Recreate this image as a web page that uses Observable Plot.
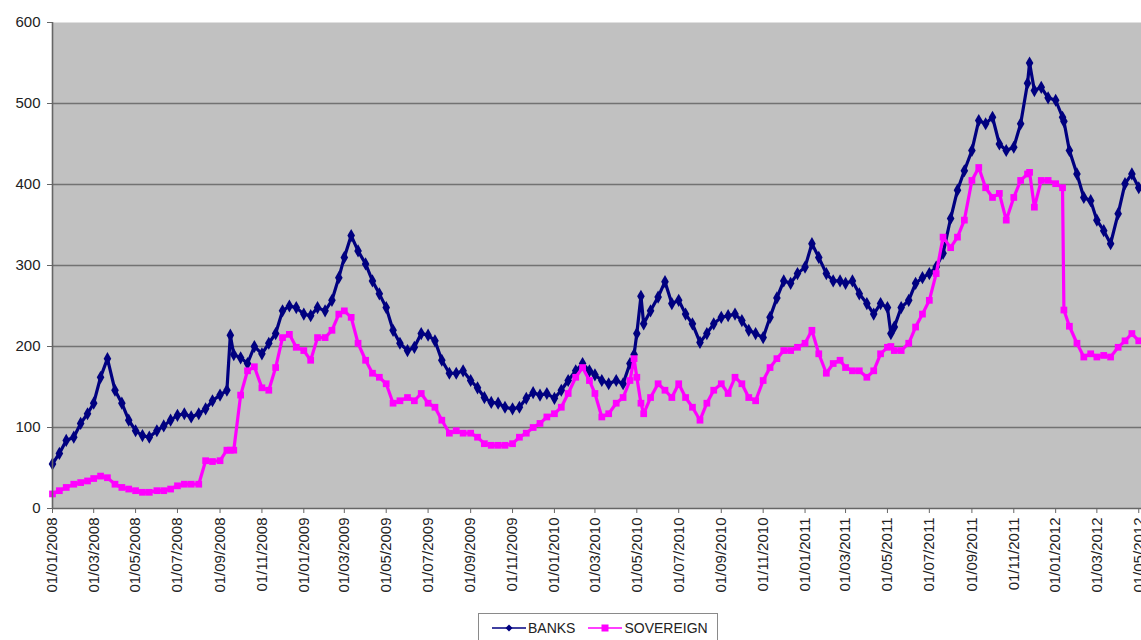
<!DOCTYPE html>
<html>
<head>
<meta charset="utf-8">
<script src="https://cdn.jsdelivr.net/npm/d3@7"></script>
<script src="https://cdn.jsdelivr.net/npm/@observablehq/plot@0.6"></script>
<style>
  body { margin: 0; background: #fff; font-family: Arial, "Liberation Sans", sans-serif; }
  #legend {
    position: absolute; left: 478px; top: 613px; width: 240px; height: 30px;
    border: 1px solid #8a8a8a; background: #fff; box-sizing: border-box;
    display: flex; align-items: center; font-size: 14px; color: #222;
  }
  #legend .item { display: flex; align-items: center; }
  #legend svg { display: block; }
</style>
</head>
<body>
<div id="chart"></div>
<div id="legend">
  <div class="item" style="margin-left:12px">
    <svg width="36" height="14"><line x1="1" y1="7" x2="35" y2="7" stroke="#000080" stroke-width="1.5"/><path d="M18,3.5 L21.5,7 L18,10.5 L14.5,7 Z" fill="#000080"/></svg>
    <span style="margin-left:1px">BANKS</span>
  </div>
  <div class="item" style="margin-left:12px">
    <svg width="36" height="14"><line x1="1" y1="7" x2="35" y2="7" stroke="#ff00ff" stroke-width="1.5"/><rect x="14.5" y="3.5" width="7" height="7" fill="#ff00ff"/></svg>
    <span style="margin-left:1px">SOVEREIGN</span>
  </div>
</div>
<script>
// Observation dates (ISO) shared by both series
const dates = [
  "2008-01-01","2008-01-11","2008-01-21","2008-02-01","2008-02-11","2008-02-21","2008-03-01","2008-03-11","2008-03-21",
  "2008-04-01","2008-04-11","2008-04-21","2008-05-01","2008-05-11","2008-05-21","2008-06-01","2008-06-11","2008-06-21",
  "2008-07-01","2008-07-11","2008-07-21","2008-08-01","2008-08-11","2008-08-21","2008-09-01","2008-09-11","2008-09-16","2008-09-21",
  "2008-10-01","2008-10-11","2008-10-21","2008-11-01","2008-11-11","2008-11-21","2008-12-01","2008-12-11","2008-12-21",
  "2009-01-01","2009-01-11","2009-01-21","2009-02-01","2009-02-11","2009-02-21","2009-03-01","2009-03-11","2009-03-21",
  "2009-04-01","2009-04-11","2009-04-21","2009-05-01","2009-05-11","2009-05-21","2009-06-01","2009-06-11","2009-06-21",
  "2009-07-01","2009-07-11","2009-07-21","2009-08-01","2009-08-11","2009-08-21","2009-09-01","2009-09-11","2009-09-21",
  "2009-10-01","2009-10-11","2009-10-21","2009-11-01","2009-11-11","2009-11-21","2009-12-01","2009-12-11","2009-12-21",
  "2010-01-01","2010-01-11","2010-01-21","2010-02-01","2010-02-11","2010-02-21","2010-03-01","2010-03-11","2010-03-21",
  "2010-04-01","2010-04-11","2010-04-21","2010-04-27","2010-05-01","2010-05-07","2010-05-11","2010-05-21",
  "2010-06-01","2010-06-11","2010-06-21","2010-07-01","2010-07-11","2010-07-21","2010-08-01","2010-08-11","2010-08-21",
  "2010-09-01","2010-09-11","2010-09-21","2010-10-01","2010-10-11","2010-10-21","2010-11-01","2010-11-11","2010-11-21",
  "2010-12-01","2010-12-11","2010-12-21",
  "2011-01-01","2011-01-11","2011-01-21","2011-02-01","2011-02-11","2011-02-21","2011-03-01","2011-03-11","2011-03-21",
  "2011-04-01","2011-04-11","2011-04-21","2011-05-01","2011-05-06","2011-05-11","2011-05-21","2011-06-01","2011-06-11","2011-06-21",
  "2011-07-01","2011-07-11","2011-07-21","2011-08-01","2011-08-11","2011-08-21","2011-09-01","2011-09-11","2011-09-21",
  "2011-10-01","2011-10-11","2011-10-21","2011-11-01","2011-11-11","2011-11-21","2011-11-24","2011-12-01","2011-12-11","2011-12-21",
  "2012-01-01","2012-01-11","2012-01-13","2012-01-21","2012-02-01","2012-02-11","2012-02-21","2012-03-01","2012-03-11","2012-03-21",
  "2012-04-01","2012-04-11","2012-04-21","2012-05-01"
];

// BANKS spread (bp)
const banks = [
  55, 68, 84, 88, 105, 117, 130, 162, 185,
  146, 130, 109, 96, 90, 88, 96, 102, 109,
  115, 117, 113, 117, 123, 133, 140, 146, 214, 190,
  186, 179, 200, 191, 204, 216, 244, 250, 248,
  240, 238, 248, 244, 257, 285, 310, 337, 318,
  302, 281, 265, 248, 220, 204, 195, 199, 216,
  214, 207, 183, 167, 167, 170, 158, 149, 137,
  131, 130, 125, 123, 125, 136, 143, 140, 142,
  136, 146, 158, 170, 179, 170, 165, 158, 154,
  158, 154, 179, 190, 216, 262, 228, 244,
  261, 280, 253, 257, 240, 228, 205, 216, 228,
  236, 238, 240, 232, 220, 216, 211, 236, 260,
  281, 278, 290,
  298, 327, 310, 290, 281, 281, 278, 281, 265,
  253, 240, 253, 248, 216, 224, 248, 257, 278, 285,
  290, 298, 315, 358, 393, 417, 442, 479, 475,
  483, 450, 442, 446, 475, 525, 550, 516, 520, 507,
  504, 483, 478, 442, 413, 384, 380, 356, 343, 327,
  364, 401, 413, 396
];

// SOVEREIGN spread (bp)
const sovereign = [
  18, 22, 26, 30, 32, 34, 37, 40, 38,
  30, 26, 24, 22, 20, 20, 22, 22, 24,
  28, 30, 30, 30, 59, 58, 59, 72, 72, 72,
  140, 170, 175, 149, 146, 174, 211, 215, 199,
  195, 183, 211, 211, 220, 240, 244, 236, 204,
  183, 167, 162, 154, 130, 133, 137, 133, 142,
  130, 125, 109, 93, 96, 93, 93, 88, 80,
  78, 78, 78, 80, 88, 93, 100, 105, 113,
  117, 125, 142, 162, 174, 158, 142, 113, 117,
  130, 137, 158, 185, 162, 130, 117, 137,
  154, 146, 137, 154, 137, 125, 109, 130, 146,
  154, 142, 162, 154, 137, 133, 158, 174, 185,
  195, 195, 199,
  204, 220, 191, 167, 179, 183, 174, 170, 170,
  162, 170, 191, 199, 200, 195, 195, 204, 224, 240,
  257, 290, 335, 322, 335, 356, 405, 421, 396,
  384, 389, 356, 384, 405, 413, 415, 372, 405, 405,
  401, 396, 245, 225, 204, 187, 191, 187, 189, 187,
  199, 207, 216, 207
];

// Axis ticks
const yTicks = [0, 100, 200, 300, 400, 500, 600];
const xTickLabels = [
  "2008-01-01","2008-03-01","2008-05-01","2008-07-01","2008-09-01","2008-11-01",
  "2009-01-01","2009-03-01","2009-05-01","2009-07-01","2009-09-01","2009-11-01",
  "2010-01-01","2010-03-01","2010-05-01","2010-07-01","2010-09-01","2010-11-01",
  "2011-01-01","2011-03-01","2011-05-01","2011-07-01","2011-09-01","2011-11-01",
  "2012-01-01","2012-03-01","2012-05-01"
];

const parse = d3.utcParse("%Y-%m-%d");
const banksRows = dates.map((d, i) => ({date: parse(d), value: banks[i]}));
const sovRows = dates.map((d, i) => ({date: parse(d), value: sovereign[i]}));
const xStart = parse("2008-01-01");

const chart = Plot.plot({
  width: 1141,
  height: 605,
  marginLeft: 52,
  marginRight: 0,
  marginTop: 22,
  marginBottom: 97,
  style: {fontFamily: "Arial, 'Liberation Sans', sans-serif", fontSize: "15px", color: "#222", background: "transparent"},
  x: {type: "utc", domain: [xStart, parse("2012-05-05")]},
  y: {domain: [0, 600]},
  marks: [
    Plot.frame({fill: "#c1c1c1", stroke: "none"}),
    Plot.ruleY(yTicks.filter(v => v > 0 && v < 600), {stroke: "#727272", strokeWidth: 1.6}),
    Plot.line(banksRows, {x: "date", y: "value", stroke: "#000080", strokeWidth: 3.2}),
    Plot.dot(banksRows, {x: "date", y: "value", symbol: "diamond", r: 4, fill: "#000080"}),
    Plot.line(sovRows, {x: "date", y: "value", stroke: "#ff00ff", strokeWidth: 3.2}),
    Plot.dot(sovRows, {x: "date", y: "value", symbol: "square", r: 3.8, fill: "#ff00ff"}),
    Plot.axisY({ticks: yTicks, tickSize: 5, tickPadding: 7, label: null, stroke: "#666"}),
    Plot.axisX({
      ticks: xTickLabels.map(parse),
      tickFormat: d3.utcFormat("%d/%m/%Y"),
      tickRotate: -90,
      tickSize: 5,
      tickPadding: 4,
      label: null,
      stroke: "#666"
    }),
    Plot.ruleX([xStart], {stroke: "#666", strokeWidth: 1.6}),
    Plot.ruleY([0], {stroke: "#666", strokeWidth: 1.6})
  ]
});
document.getElementById("chart").appendChild(chart);
</script>
</body>
</html>
